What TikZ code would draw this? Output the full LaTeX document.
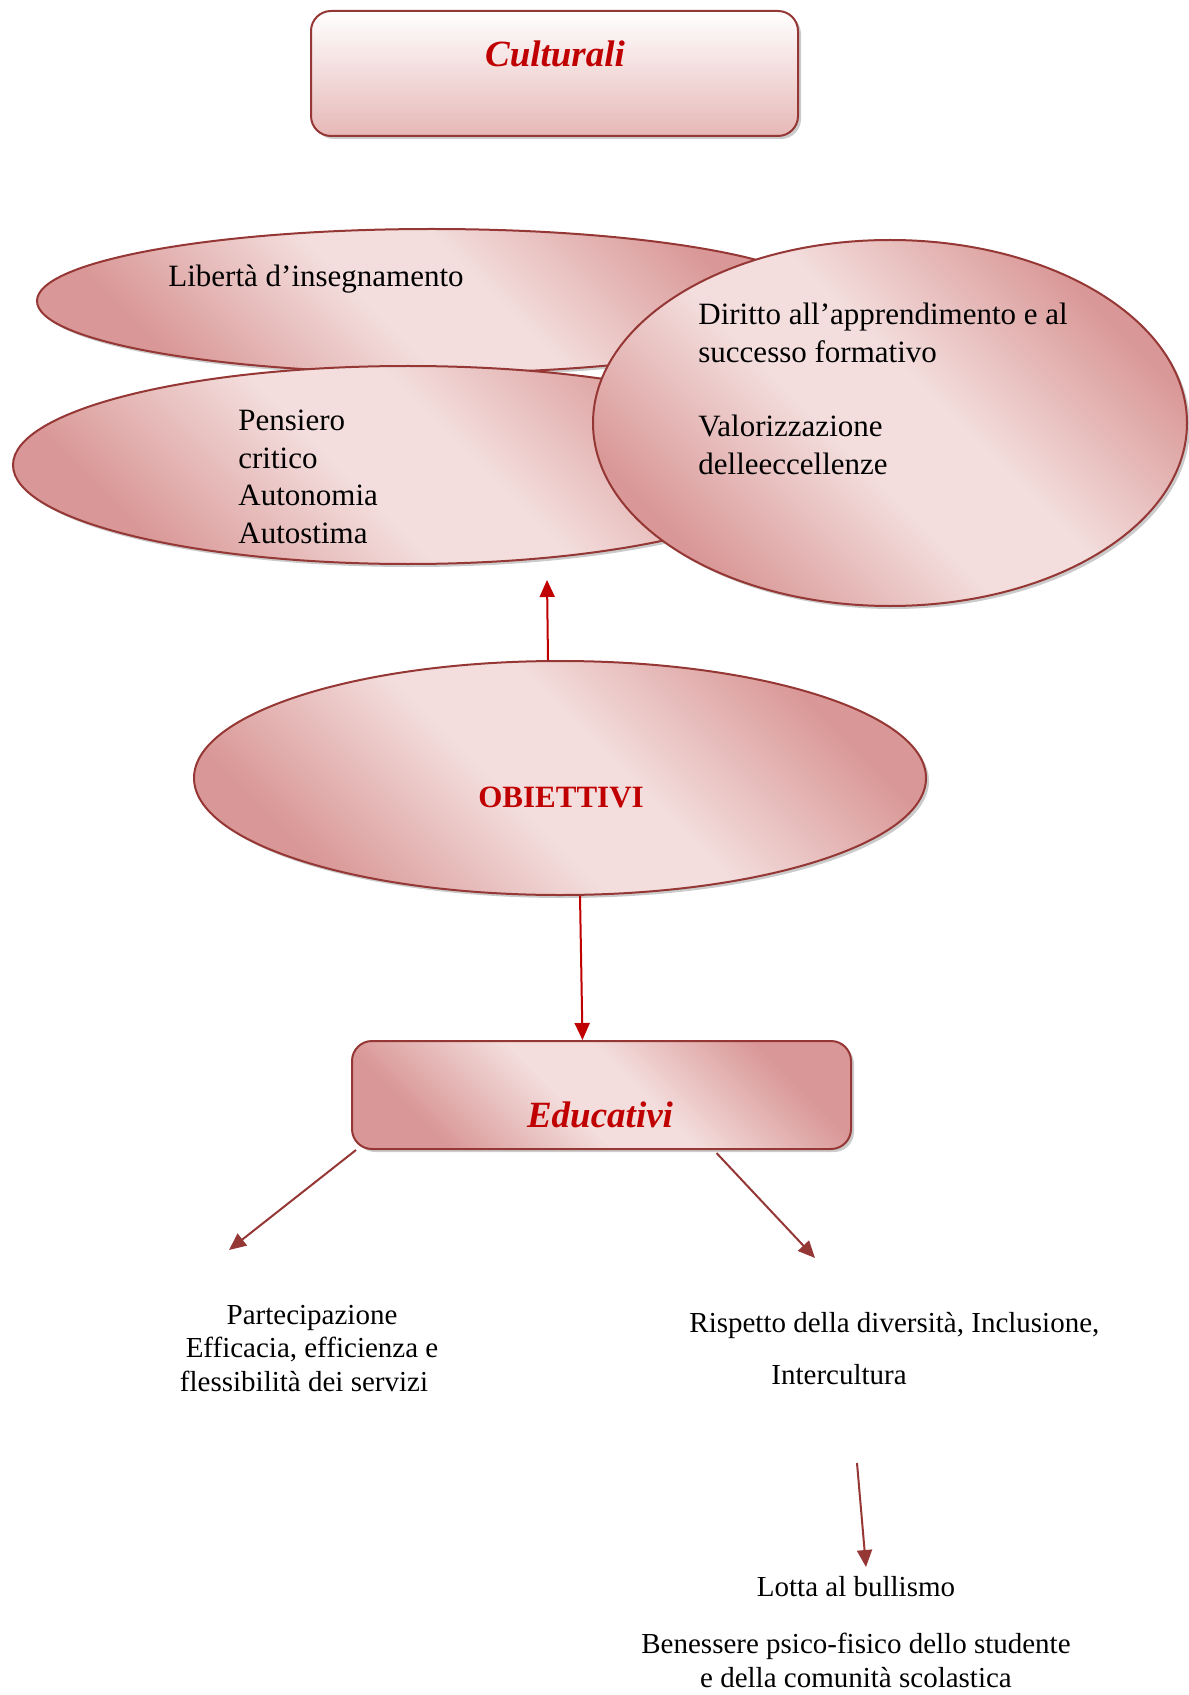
\documentclass[tikz,border=0pt]{standalone}
\usepackage{fontspec}
\setmainfont{Liberation Serif}
\usepackage{tikz}
\usetikzlibrary{positioning,shapes.geometric,shadows,arrows.meta}
\usepackage{xcolor}
\definecolor{rim}{RGB}{149,55,53}
\definecolor{titlered}{RGB}{192,0,0}
\definecolor{pinkdark}{RGB}{217,152,151}
\definecolor{pinklight}{RGB}{243,222,221}
\definecolor{pinkbottom}{RGB}{230,184,183}
\pgfdeclarehorizontalshading{pinkband}{100bp}{color(0bp)=(pinkdark); color(26bp)=(pinkdark); color(45bp)=(pinklight); color(55bp)=(pinklight); color(74bp)=(pinkdark); color(100bp)=(pinkdark)}

\begin{document}
\begin{tikzpicture}[x=0.5pt,y=-0.5pt,
  softshadow/.style={drop shadow={shadow xshift=1.5pt,shadow yshift=-1.5pt,fill=black!45,opacity=0.45}},
  pinkshade/.style={shade,shading=pinkband,shading angle=45},
  bubble/.style={ellipse,draw=rim,line width=1pt,softshadow,pinkshade,inner sep=0pt},
  panel/.style={rectangle,rounded corners=10pt,draw=rim,line width=1pt,softshadow,inner sep=0pt},
  heading/.style={font=\fontsize{18.5}{22}\selectfont\bfseries\itshape,text=titlered,inner sep=0pt},
  body/.style={font=\fontsize{15.5}{18.7}\selectfont,align=left,inner sep=0pt},
  small/.style={font=\fontsize{14.5}{16.75}\selectfont,inner sep=0pt},
  redarrow/.style={titlered,line width=1pt,-{Triangle[length=8.5pt,width=7.5pt]}},
  darkarrow/.style={rim,line width=1pt,-{Triangle[length=8.5pt,width=7.5pt]}}]
\useasboundingbox (0,0) rectangle (1188,1695);

\node[panel,top color=white,bottom color=pinkbottom,minimum width=243.5pt,minimum height=62.5pt] (cult) at (554.5,73.5) {};
\node[heading,anchor=base] (cultT) at (555,67) {Culturali};

\node[bubble,minimum width=395pt,minimum height=72pt] (lib) at (432,301) {};
\node[bubble,minimum width=395pt,minimum height=99pt] (pens) at (408,465) {};
\node[bubble,minimum width=297pt,minimum height=183pt] (dir) at (890,423) {};
\node[body,anchor=base west] (libT) at (168,287) {Libertà d’insegnamento};
\node[body,anchor=base west] (pensT) at (238,543) {Pensiero\\critico\\Autonomia\\Autostima};
\node[body,anchor=base west] (dirT) at (698,474) {Diritto all’apprendimento e al\\successo formativo\\[18.5pt]Valorizzazione\\delleeccellenze};

\node[bubble,minimum width=366pt,minimum height=117pt] (obj) at (560,778) {};
\node[font=\fontsize{15.5}{18.7}\selectfont\bfseries,text=titlered,inner sep=0pt,anchor=base] (objT) at (561,807) {OBIETTIVI};

\node[panel,pinkshade,minimum width=249.5pt,minimum height=54pt] (edu) at (601.5,1095) {};
\node[heading,anchor=base] (eduT) at (600,1127) {Educativi};

\node[small,align=center,anchor=base] (part) at (312,1391) {Partecipazione\\Efficacia, efficienza e\\flessibilità dei servizi\hspace*{8pt}};
\node[small,align=left,anchor=base west] (risp) at (689,1384) {Rispetto della diversità, Inclusione,\\[9.25pt]\hspace*{41pt}Intercultura};
\node[small,align=center,anchor=base] (lotta) at (856,1687) {Lotta al bullismo\\[11.75pt]Benessere psico-fisico dello studente\\e della comunità scolastica};

\coordinate (upTip) at (547,580);
\coordinate (partTip) at (229,1250);
\coordinate (rispTip) at (815,1258);
\coordinate (lottaTail) at (857,1463);
\coordinate (lottaTip) at (866,1567);

\draw[redarrow] ([xshift=-6pt]obj.north) -- (upTip);
\draw[redarrow] ([xshift=10pt]obj.south) -- ([xshift=-9.5pt]edu.north);
\draw[darkarrow] ([xshift=2.5pt]edu.south west) -- (partTip);
\draw[darkarrow] ([xshift=57.5pt,yshift=-1.5pt]edu.south) -- (rispTip);
\draw[darkarrow] (lottaTail) -- (lottaTip);
\end{tikzpicture}
\end{document}
